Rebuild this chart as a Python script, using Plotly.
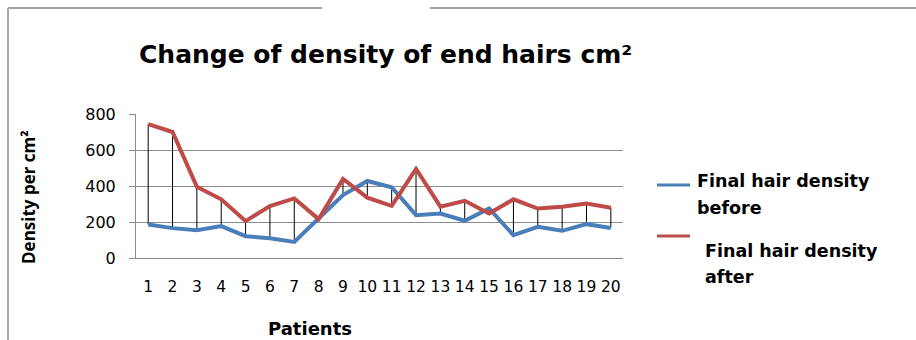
import plotly.graph_objects as go

patients = [str(i) for i in range(1, 21)]
before = [186, 166, 154, 177, 121, 110, 89, 216, 350, 428, 393, 238, 247, 207, 275, 127, 173, 151, 188, 167]
after = [744, 700, 396, 326, 205, 288, 331, 216, 439, 335, 290, 495, 285, 318, 247, 326, 275, 285, 303, 279]
y_ticks = [0, 200, 400, 600, 800]
series_names = ["Final hair density before", "Final hair density after"]

W, H = 916, 340
L, R, T, B = 136, 623, 114, 258
WIDE = "DejaVu Sans"
NARROW = "Open Sans"

def px(x):
    return (x - L) / (R - L)

def py(y):
    return (B - y) / (B - T)

# high-low drop lines between the two series
dx, dy = [], []
for p, b, a in zip(patients, before, after):
    dx += [p, p, None]
    dy += [b, a, None]

fig = go.Figure()
fig.add_trace(go.Scatter(x=dx, y=dy, mode="lines", line=dict(color="#000000", width=1),
                         showlegend=False, hoverinfo="skip"))
fig.add_trace(go.Scatter(x=patients, y=before, mode="lines", name=series_names[0],
                         line=dict(color="#4A7EBB", width=4)))
fig.add_trace(go.Scatter(x=patients, y=after, mode="lines", name=series_names[1],
                         line=dict(color="#BE4B48", width=4)))

shapes = [
    dict(type="line", xref="paper", yref="paper", x0=px(8), x1=px(8), y0=py(8), y1=py(345),
         line=dict(color="#A6A6A6", width=2)),
    dict(type="line", xref="paper", yref="paper", x0=px(8), x1=px(322), y0=py(8), y1=py(8),
         line=dict(color="#A6A6A6", width=2)),
    dict(type="line", xref="paper", yref="paper", x0=px(430), x1=px(920), y0=py(8), y1=py(8),
         line=dict(color="#A6A6A6", width=2)),
    # legend keys
    dict(type="line", xref="paper", yref="paper", x0=px(657), x1=px(690), y0=py(185), y1=py(185),
         line=dict(color="#4A7EBB", width=3)),
    dict(type="line", xref="paper", yref="paper", x0=px(657), x1=px(690), y0=py(236), y1=py(236),
         line=dict(color="#BE4B48", width=3)),
]

def ann(text, x, y, font, size, xanchor="left", angle=0):
    return dict(text=text, xref="paper", yref="paper", x=px(x), y=py(y), showarrow=False,
                xanchor=xanchor, yanchor="middle", textangle=angle,
                font=dict(family=font, size=size, color="#000000"))

annotations = [
    ann("<b>Change of density of end hairs cm²</b>", 385, 55, WIDE, 25, "center"),
    ann("<b>Final hair density</b>", 695, 181, WIDE, 17.5),
    ann("<b>before</b>", 695, 208, WIDE, 17.5),
    ann("<b>Final hair density</b>", 703, 251, WIDE, 17.5),
    ann("<b>after</b>", 703, 277, WIDE, 17.5),
    ann("<b>Patients</b>", 310, 328, WIDE, 18, "center"),
    ann("<b>Density per cm²</b>", 28, 197, NARROW, 17, "center", -90),
]

fig.update_layout(
    width=W, height=H,
    margin=dict(l=L, r=W - R, t=T, b=H - B),
    paper_bgcolor="#FFFFFF", plot_bgcolor="#FFFFFF",
    showlegend=False,
    shapes=shapes, annotations=annotations,
    font=dict(family=WIDE, color="#000000"),
)
fig.update_xaxes(type="category", range=[-0.5, 19.5], showgrid=False,
                 showline=True, linecolor="#868686", linewidth=1,
                 ticks="", ticklabelstandoff=14,
                 tickfont=dict(family=WIDE, size=15.5, color="#000000"))
fig.update_yaxes(range=[0, 800], tickvals=y_ticks, showgrid=True, gridcolor="#8C8C8C", gridwidth=1,
                 showline=True, linecolor="#8C8C8C", linewidth=1, zeroline=False,
                 ticks="outside", ticklen=6, tickcolor="#8C8C8C", ticklabelstandoff=10,
                 tickfont=dict(family=WIDE, size=16, color="#000000"))

fig.write_html("out.html")
